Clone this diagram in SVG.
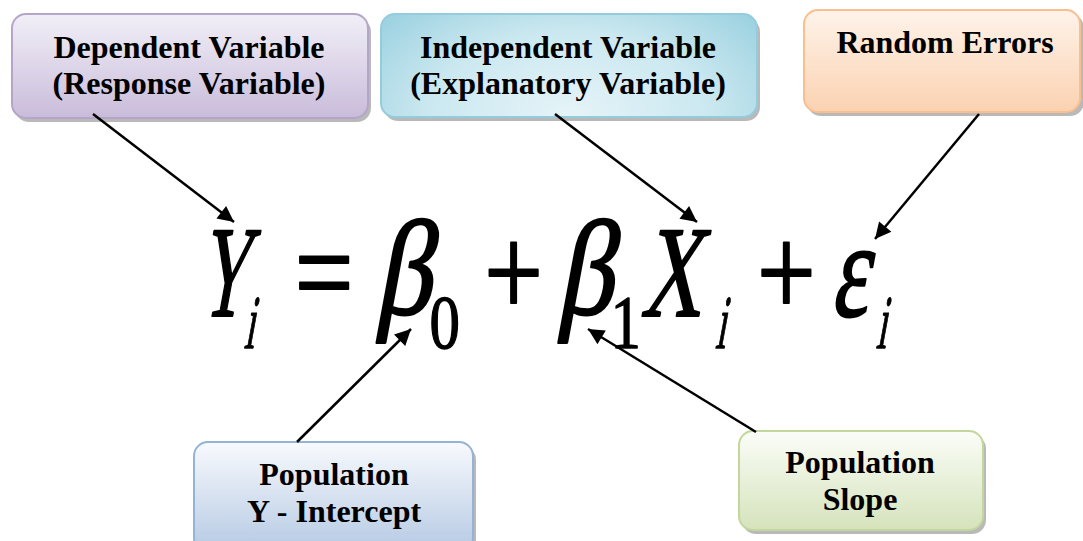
<svg xmlns="http://www.w3.org/2000/svg" width="1083" height="541" viewBox="0 0 1083 541">
<defs>
<linearGradient id="gPurple" x1="0" y1="0" x2="0" y2="1"><stop offset="0" stop-color="#f2eff7"/><stop offset="1" stop-color="#c9bcda"/></linearGradient>
<radialGradient id="gBlue" cx="0.5" cy="1" r="0.75" gradientTransform="translate(0.5,1) scale(1,2.2) translate(-0.5,-1)"><stop offset="0" stop-color="#e6f4f8"/><stop offset="0.5" stop-color="#cbe8f0"/><stop offset="1" stop-color="#8ccadb"/></radialGradient>
<linearGradient id="gOrange" x1="0" y1="0" x2="0" y2="1"><stop offset="0" stop-color="#fef3ea"/><stop offset="1" stop-color="#fbd2b1"/></linearGradient>
<linearGradient id="gSteel" x1="0" y1="0" x2="0" y2="1"><stop offset="0" stop-color="#f8fafd"/><stop offset="1" stop-color="#b5c9e3"/></linearGradient>
<linearGradient id="gGreen" x1="0" y1="0" x2="0" y2="1"><stop offset="0" stop-color="#fbfdf8"/><stop offset="1" stop-color="#d5e3bb"/></linearGradient>
<marker id="ah" viewBox="0 0 10 10" refX="10" refY="5" markerWidth="18" markerHeight="16" markerUnits="userSpaceOnUse" orient="auto"><path d="M0,0 L10,5 L0,10 z" fill="#000"/></marker>
</defs>
<style>
.lbl{font-family:"Liberation Serif","Times New Roman",serif;font-weight:bold;font-size:32px;fill:#000;text-anchor:middle}
.shadow{fill:#7f7f7f;opacity:0.55}
.box{stroke-width:2}
.eq{font-family:"Liberation Serif","Times New Roman",serif;fill:#000;text-anchor:middle;stroke:#000;stroke-linejoin:round}
.big{font-size:130px;stroke-width:2.2}
.sub{font-size:76px;stroke-width:1.4}
.conn line{stroke:#000;stroke-width:2.5;marker-end:url(#ah)}
</style>
<rect width="1083" height="541" fill="#fff"/>
<g id="dependent">
<rect class="shadow" x="15" y="18" width="356" height="104" rx="14"/>
<rect class="box" x="12" y="14" width="356" height="104" rx="14" fill="url(#gPurple)" stroke="#b4a5c9"/>
<text class="lbl" x="189" y="58">Dependent Variable</text>
<text class="lbl" x="189" y="94">(Response Variable)</text>
</g>
<g id="independent">
<rect class="shadow" x="384" y="18" width="376" height="103" rx="14"/>
<rect class="box" x="381" y="14" width="376" height="103" rx="14" fill="url(#gBlue)" stroke="#93cddd"/>
<text class="lbl" x="568" y="58">Independent Variable</text>
<text class="lbl" x="568" y="94">(Explanatory Variable)</text>
</g>
<g id="errors">
<rect class="shadow" x="807" y="14" width="277" height="102" rx="14"/>
<rect class="box" x="804" y="10" width="276" height="102" rx="14" fill="url(#gOrange)" stroke="#f9bf8f"/>
<text class="lbl" x="945" y="53">Random Errors</text>
</g>
<g id="intercept">
<rect class="shadow" x="197" y="446" width="279" height="110" rx="14"/>
<rect class="box" x="194" y="442" width="279" height="110" rx="14" fill="url(#gSteel)" stroke="#95b3d7"/>
<text class="lbl" x="334" y="485">Population</text>
<text class="lbl" x="334" y="522">Y - Intercept</text>
</g>
<g id="slope">
<rect class="shadow" x="742" y="435" width="244" height="99" rx="14"/>
<rect class="box" x="739" y="431" width="244" height="99" rx="14" fill="url(#gGreen)" stroke="#c3d69b"/>
<text class="lbl" x="860" y="473">Population</text>
<text class="lbl" x="860" y="510">Slope</text>
</g>
<g id="equation" transform="scale(0.8,1)">
<text class="eq big" transform="translate(278,316) skewX(-13) scale(0.66,1)" stroke-width="3">Y</text>
<text class="eq sub" transform="translate(311,348) skewX(-13) scale(0.6,1)" stroke-width="2">i</text>
<text class="eq big" x="405" y="316">=</text>
<text class="eq big" transform="translate(504,314) skewX(-13) scale(1.08,1.04)">β</text>
<text class="eq sub" x="556" y="348">0</text>
<text class="eq big" x="642" y="316">+</text>
<text class="eq big" transform="translate(731,314) skewX(-13) scale(1.08,1.04)">β</text>
<text class="eq sub" x="782" y="348">1</text>
<text class="eq big" transform="translate(838,316) skewX(-13) scale(0.8,1)" stroke-width="2.6">X</text>
<text class="eq sub" transform="translate(900,348) skewX(-13) scale(0.6,1)" stroke-width="2">i</text>
<text class="eq big" x="983" y="316">+</text>
<text class="eq big" transform="translate(1061,316) skewX(-13) scale(0.85,1.05)" stroke-width="2.6">ε</text>
<text class="eq sub" transform="translate(1101,348) skewX(-13) scale(0.6,1)" stroke-width="2">i</text>
</g>
<g id="connectors" class="conn">
<line x1="93" y1="114" x2="234" y2="222"/>
<line x1="555" y1="114" x2="697" y2="222"/>
<line x1="979" y1="114" x2="875" y2="239"/>
<line x1="297" y1="442" x2="411" y2="329"/>
<line x1="756" y1="432" x2="588" y2="329"/>
</g>
</svg>
